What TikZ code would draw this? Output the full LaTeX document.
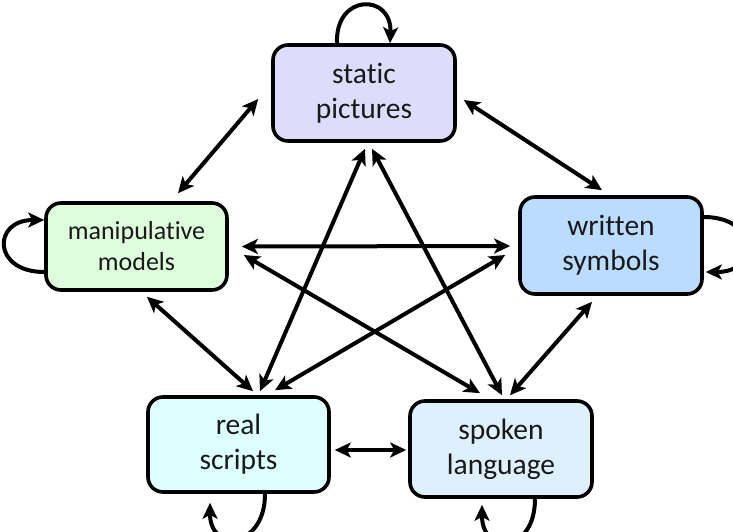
\documentclass[tikz,border=0pt]{standalone}
\usepackage{fontspec}
\setmainfont{Carlito}[Ligatures=NoCommon]
\usetikzlibrary{arrows.meta}
\definecolor{cstatic}{RGB}{221,221,251}
\definecolor{cmanip}{RGB}{221,253,221}
\definecolor{cwritten}{RGB}{185,220,255}
\definecolor{creal}{RGB}{221,255,255}
\definecolor{cspoken}{RGB}{221,240,252}
\begin{document}
\begin{tikzpicture}[x=1pt,y=-1pt,
  box/.style={draw,line width=3.6pt,rounded corners=15pt,align=center,inner sep=0pt,
    font=\fontsize{29.5}{35}\selectfont,text=black!90,minimum width=182pt,minimum height=96pt},
  arw/.tip={Stealth[length=16pt,width=15pt,inset=4pt]},
  conn/.style={line width=4pt,arw-arw},
  selfloop/.style={line width=4pt,-arw}]
\useasboundingbox (0,0) rectangle (733,532);

\node[box,fill=cstatic] (static) at (364,93) {static\\pictures};
\node[box,fill=cmanip,minimum width=181pt,minimum height=87pt,font=\fontsize{26}{31}\selectfont] (manip) at (136.5,246.5) {manipulative\\models};
\node[box,fill=cwritten,minimum height=97pt] (written) at (611,245.5) {written\\symbols};
\node[box,fill=creal,minimum width=181pt,minimum height=95pt] (real) at (238.5,444.5) {real\\scripts};
\node[box,fill=cspoken] (spoken) at (501,449) {spoken\\language};

% connectors
\draw[conn] ([shift={(-13,6)}]static.west) -- ([shift={(41.5,-8)}]manip.north);
\draw[conn] ([shift={(7,7)}]static.east) -- ([shift={(-9,-5)}]written.north);
\draw[conn] ([shift={(13,0)}]manip.east) -- ([shift={(-8,0.5)}]written.west);
\draw[conn] ([shift={(15,8.5)}]manip.east) -- ([shift={(-21,-6)}]spoken.north);
\draw[conn] ([shift={(-13,9.5)}]written.west) -- ([shift={(36.5,-5)}]real.north);
\draw[conn] ([shift={(1,6)}]static.south) -- ([shift={(21.5,-4)}]real.north);
\draw[conn] ([shift={(8,6)}]static.south) -- ([shift={(1,-4)}]spoken.north);
\draw[conn] ([shift={(10.5,5)}]manip.south) -- ([shift={(14.5,-4)}]real.north);
\draw[conn] ([shift={(-19,6)}]written.south) -- ([shift={(9,-4)}]spoken.north);
\draw[conn] ([shift={(4,5.5)}]real.east) -- ([shift={(-2,1)}]spoken.west);

% self loops
\draw[selfloop] ([xshift=-27pt]static.north) .. controls +(-2,-50) and +(2,-50) .. ([xshift=26pt]static.north);
\draw[selfloop] ([shift={(0,25.5)}]manip.west) .. controls +(-52,0) and +(-52,0) .. ([shift={(0,-26.5)}]manip.west);
\draw[selfloop] ([shift={(0,-28.5)}]written.east) .. controls +(55,0) and +(55,0) .. ([shift={(2,26.5)}]written.east);
\draw[selfloop] ([shift={(26.5,0)}]real.south) .. controls +(0,55) and +(0,50) .. ([shift={(-28.5,9)}]real.south);
\draw[selfloop] ([shift={(34,0)}]spoken.south) .. controls +(0,55) and +(0,50) .. ([shift={(-19,6)}]spoken.south);
\end{tikzpicture}
\end{document}
